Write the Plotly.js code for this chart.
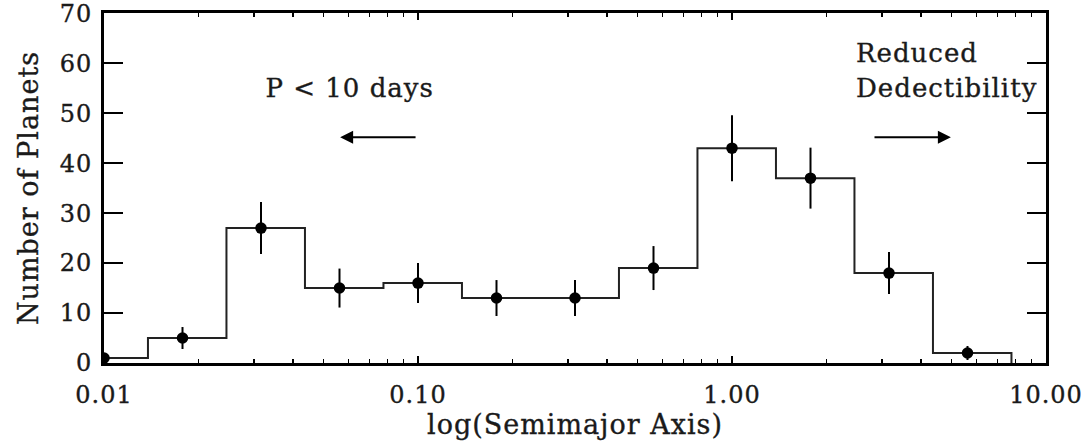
<!DOCTYPE html>
<html>
<head>
<meta charset="utf-8">
<script src="https://cdn.plot.ly/plotly-3.0.1.min.js"></script>
<style>
  html, body { margin: 0; padding: 0; background: #fff; }
  #chart { width: 1088px; height: 448px; }
  .main-svg text { letter-spacing: 1px; stroke: #1a1a1a; stroke-width: 0.35px; }
</style>
</head>
<body>
<div id="chart"></div>
<script>
// log10(semimajor axis / AU) of bin centres
const logCenters = [-2.0, -1.75, -1.5, -1.25, -1.0, -0.75, -0.5, -0.25, 0.0, 0.25, 0.5, 0.75];
// number of planets per bin
const counts = [1, 5, 27, 15, 16, 13, 13, 19, 43, 37, 18, 2];
// error bars
const errors = [1.0, 2.2, 5.2, 3.9, 4.0, 3.6, 3.6, 4.4, 6.6, 6.1, 4.2, 1.4];
// histogram bin edges, log10 units
const logEdges = [-2.11, -1.86, -1.61, -1.36, -1.11, -0.86, -0.61, -0.36, -0.11, 0.14, 0.39, 0.64, 0.89];
// tick labels
const xTickVals = [0.01, 0.1, 1, 10];
const xTickText = ['0.01', '0.10', '1.00', '10.00'];
const yTickVals = [0, 10, 20, 30, 40, 50, 60, 70];
const yTickText = ['0', '10', '20', '30', '40', '50', '60', '70'];

const xCenters = logCenters.map(v => Math.pow(10, v));
const xEdges = logEdges.map(v => Math.pow(10, v));
const stepY = counts.concat([0]);

const minorVals = [];
for (let d = -2; d < 1; d++) {
  for (let k = 2; k <= 9; k++) minorVals.push(k * Math.pow(10, d));
}

const FONT = 'DejaVu Serif';
const INK = '#1a1a1a';

const traces = [
  {
    x: xEdges, y: stepY, mode: 'lines', type: 'scatter',
    line: { shape: 'hv', color: '#222', width: 2 },
    hoverinfo: 'skip', showlegend: false
  },
  {
    x: xCenters, y: counts, mode: 'markers', type: 'scatter',
    marker: { color: '#000', size: 11.5 },
    error_y: { type: 'data', array: errors, visible: true, color: '#000', thickness: 2, width: 0 },
    showlegend: false
  }
];

const layout = {
  width: 1088, height: 448,
  margin: { l: 104, r: 42, t: 13, b: 85 },
  paper_bgcolor: '#fff', plot_bgcolor: '#fff',
  font: { family: FONT, color: INK, size: 24 },
  showlegend: false,
  xaxis: {
    type: 'log', range: [-2, 1],
    tickmode: 'array', tickvals: xTickVals, ticktext: xTickText,
    ticks: 'inside', ticklen: 7, tickwidth: 2, tickcolor: '#000',
    minor: { tickmode: 'array', tickvals: minorVals, ticks: 'inside', ticklen: 4, tickwidth: 1.5, tickcolor: '#000' },
    showline: true, linewidth: 3, linecolor: '#000', mirror: 'allticks',
    showgrid: false, zeroline: false,
    tickfont: { family: FONT, size: 24, color: INK },
    ticklabelstandoff: 8,
    title: { text: 'log(Semimajor Axis)', font: { family: FONT, size: 27, color: INK }, standoff: 6 }
  },
  yaxis: {
    range: [0, 70.05],
    tickmode: 'array', tickvals: yTickVals, ticktext: yTickText,
    ticks: 'inside', ticklen: 19, tickwidth: 2, tickcolor: '#000',
    showline: true, linewidth: 3, linecolor: '#000', mirror: 'allticks',
    showgrid: false, zeroline: false,
    tickfont: { family: FONT, size: 24, color: INK },
    ticklabelstandoff: 4,
    ticklabeloverflow: 'allow',
    title: { text: 'Number of Planets', font: { family: FONT, size: 27, color: INK }, standoff: 16 }
  },
  annotations: [
    { x: -1.217, y: 55, xref: 'x', yref: 'y', text: 'P < 10 days', showarrow: false,
      font: { family: FONT, size: 26, color: INK }, xanchor: 'center', yanchor: 'middle' },
    { x: -1.248, y: 45.2, ax: -1.003, ay: 45.2, xref: 'x', yref: 'y', axref: 'x', ayref: 'y',
      text: '', showarrow: true, arrowhead: 2, arrowsize: 1.3, arrowwidth: 2, arrowcolor: '#000' },
    { x: 0.39, y: 62, xref: 'x', yref: 'y', text: 'Reduced', showarrow: false, align: 'left',
      font: { family: FONT, size: 26, color: INK }, xanchor: 'left', yanchor: 'middle' },
    { x: 0.39, y: 55, xref: 'x', yref: 'y', text: 'Dedectibility', showarrow: false, align: 'left',
      font: { family: FONT, size: 26, color: INK }, xanchor: 'left', yanchor: 'middle' },
    { x: 0.697, y: 45.2, ax: 0.449, ay: 45.2, xref: 'x', yref: 'y', axref: 'x', ayref: 'y',
      text: '', showarrow: true, arrowhead: 2, arrowsize: 1.3, arrowwidth: 2, arrowcolor: '#000' }
  ]
};

Plotly.newPlot('chart', traces, layout, { staticPlot: true, displayModeBar: false });
</script>
</body>
</html>
